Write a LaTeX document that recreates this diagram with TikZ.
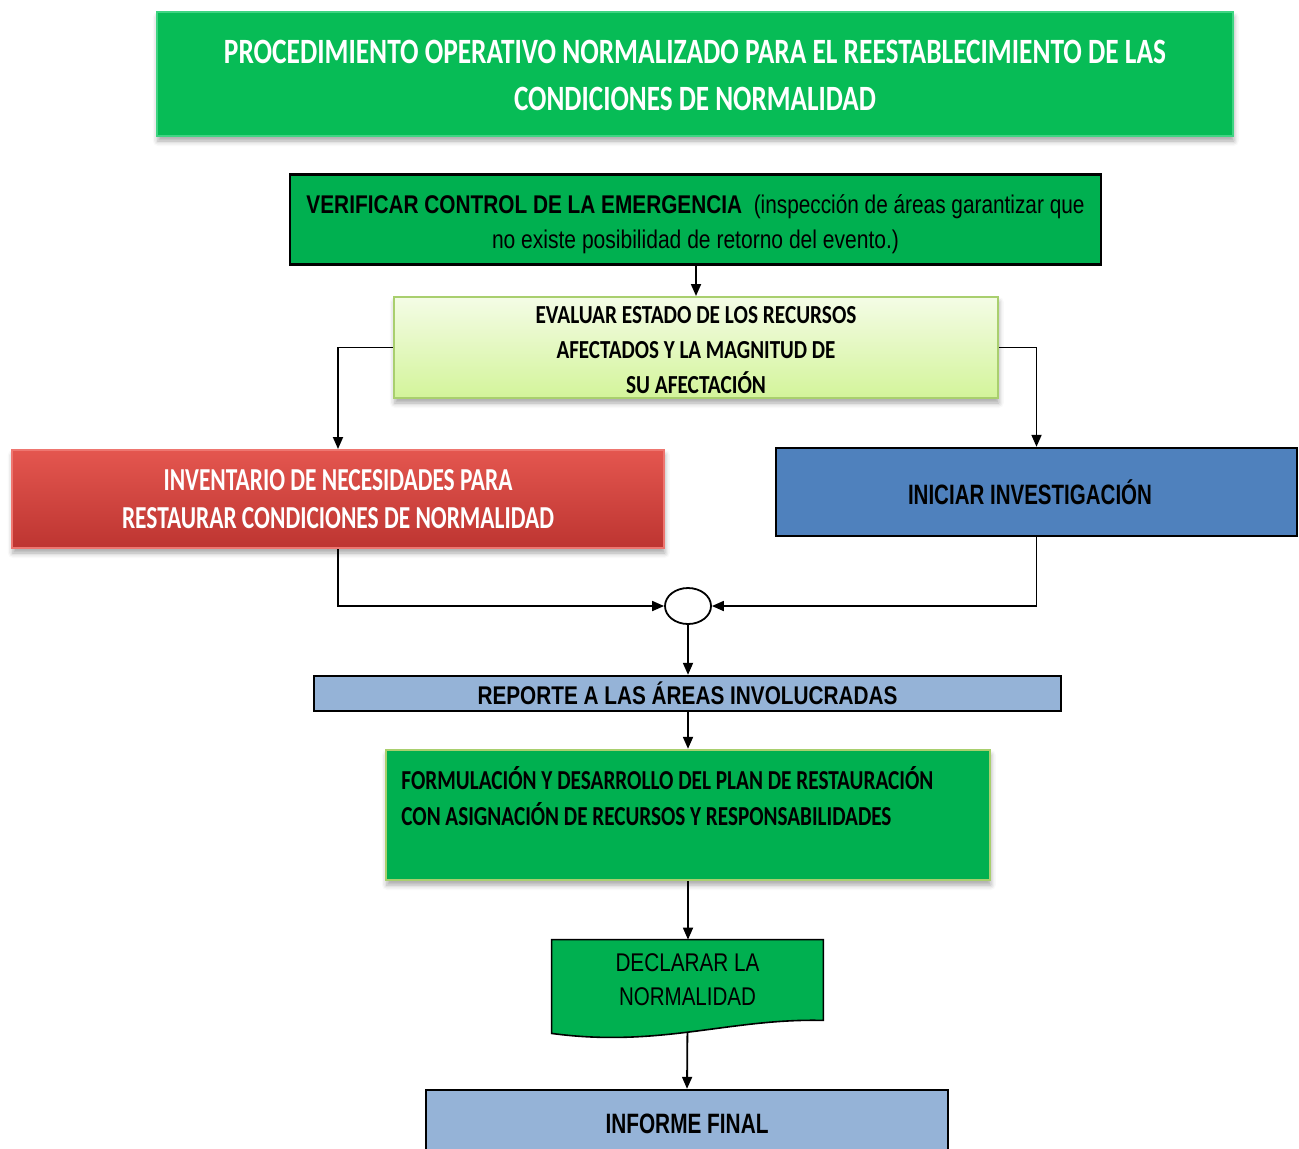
\documentclass[tikz,border=0pt]{standalone}
\usepackage{fontspec}
\usepackage{graphicx}
\usetikzlibrary{arrows.meta,shadows,shadows.blur,shapes.geometric,calc}
\newfontfamily\calfont{Carlito}
\newfontfamily\arfont{Liberation Sans}
\newcommand\fitw[2]{\resizebox{#1}{\height}{#2}}
\definecolor{titlegreen}{HTML}{07BC56}
\definecolor{titleedge}{HTML}{3FD482}
\definecolor{greenbox}{HTML}{00B050}
\definecolor{olive}{HTML}{A9CF6E}
\definecolor{evtop}{HTML}{F4FCE6}
\definecolor{evbot}{HTML}{D3F49A}
\definecolor{redtop}{HTML}{E4564F}
\definecolor{redbot}{HTML}{BD3531}
\definecolor{rededge}{HTML}{EE7670}
\definecolor{bluebox}{HTML}{4F81BD}
\definecolor{lblue}{HTML}{95B3D7}
\pgfdeclarelayer{bg}
\pgfsetlayers{bg,main}
\begin{document}
\begin{tikzpicture}[x=0.5pt,y=-0.5pt,
  box/.style={rectangle, inner sep=0pt, align=center},
  txt/.style={inner sep=0pt, align=center},
  shad/.style={blur shadow={shadow xshift=0.4pt, shadow yshift=-2.5pt, shadow blur radius=2.5pt, shadow opacity=35}},
  conn/.style={draw=black, line width=0.9pt},
  arr/.style={conn, -{Triangle[length=6pt,width=5pt]}},
]
\useasboundingbox (0,0) rectangle (1299,1148);

% title
\node[box, shad, fill=titlegreen, draw=titleedge, line width=1.2pt,
      minimum width=538pt, minimum height=62pt] (title) at (695,74) {};
\node[txt, text=white, font=\calfont\bfseries\fontsize{17.8}{23.5}\selectfont] (titletxt) at (695,75)
  {\fitw{471pt}{PROCEDIMIENTO OPERATIVO NORMALIZADO PARA EL REESTABLECIMIENTO DE LAS}\\
   \fitw{181pt}{CONDICIONES DE NORMALIDAD}};

% verificar
\node[box, fill=greenbox, draw=black, line width=1.2pt,
      minimum width=405.5pt, minimum height=45pt] (verif) at (695.5,219.5) {};
\node[txt, font=\arfont\fontsize{12.8}{17.5}\selectfont] (veriftxt) at (695.5,224)
  {\fitw{389pt}{\textbf{VERIFICAR CONTROL DE LA EMERGENCIA}\ \ (inspección de áreas garantizar que}\\
   \fitw{203.5pt}{no existe posibilidad de retorno del evento.)}};

% evaluar
\node[box, shad, top color=evtop, bottom color=evbot, draw=olive, line width=1pt,
      minimum width=302pt, minimum height=50.5pt] (eval) at (696,347.5) {};
\node[txt, font=\calfont\bfseries\fontsize{13}{17.5}\selectfont] (evaltxt) at (696,350.5)
  {\fitw{160.5pt}{EVALUAR ESTADO DE LOS RECURSOS}\\
   \fitw{139.5pt}{AFECTADOS Y LA MAGNITUD DE}\\
   \fitw{70pt}{SU AFECTACIÓN}};

% inventario
\node[box, shad, top color=redtop, bottom color=redbot, draw=rededge, line width=1pt,
      minimum width=326pt, minimum height=49pt, text=white,
      font=\calfont\bfseries\fontsize{16}{19}\selectfont] (inv) at (338,499)
  {\fitw{174.5pt}{INVENTARIO DE NECESIDADES PARA}\\
   \fitw{216pt}{RESTAURAR CONDICIONES DE NORMALIDAD}};

% iniciar
\node[box, fill=bluebox, draw=black, line width=1.2pt,
      minimum width=260.5pt, minimum height=44pt,
      font=\arfont\bfseries\fontsize{14}{14}\selectfont] (inic) at (1036.5,492)
  {\fitw{122pt}{INICIAR INVESTIGACIÓN}\hspace*{6.5pt}};

% junction
\node[ellipse, draw=black, fill=white, line width=0.9pt, inner sep=0pt,
      minimum width=23pt, minimum height=18pt] (junc) at (688,606) {};

% reporte
\node[box, fill=lblue, draw=black, line width=1.2pt,
      minimum width=373.5pt, minimum height=17.5pt,
      font=\arfont\bfseries\fontsize{12.8}{12.8}\selectfont] (rep) at (687.5,693.5)
  {\fitw{210pt}{REPORTE A LAS ÁREAS INVOLUCRADAS}};

% formulacion
\node[box, shad, fill=greenbox, draw=olive, line width=1.2pt,
      minimum width=302pt, minimum height=65pt] (form) at (688,815) {};
\node[inner sep=0pt, anchor=west, align=left,
      font=\calfont\bfseries\fontsize{13.7}{18}\selectfont] (formtxt) at (401,796)
  {\fitw{266pt}{FORMULACIÓN Y DESARROLLO DEL PLAN DE RESTAURACIÓN}\\
   \fitw{245pt}{CON ASIGNACIÓN DE RECURSOS Y RESPONSABILIDADES}};

% declarar (document shape)
\node[box, minimum width=135.5pt, minimum height=40pt] (declbox) at (687.5,980) {};
\path[fill=greenbox, draw=black, line width=0.8pt]
  (declbox.north west) -- (declbox.north east) -- (declbox.south east)
  .. controls (730,1018) and (660,1048) .. ($(declbox.south west)+(0,13)$) -- cycle;
\node[txt, font=\arfont\fontsize{12.8}{17}\selectfont] (decl) at (687.5,980)
  {\fitw{72pt}{DECLARAR LA}\\ \fitw{68.5pt}{NORMALIDAD}};

% informe final
\node[box, fill=lblue, draw=black, line width=1.2pt,
      minimum width=261pt, minimum height=34pt,
      font=\arfont\bfseries\fontsize{14}{14}\selectfont] (inf) at (687,1124)
  {\fitw{81.5pt}{INFORME FINAL}};

% connectors
\begin{pgfonlayer}{bg}
\draw[arr] (verif.south -| eval.north) -- (eval.north);
\draw[arr] (eval.west) -| (inv.north);
\draw[arr] (eval.east) -| (inic.north);
\draw[arr] (inv.south) |- (junc.west);
\draw[arr] (inic.south) |- (junc.east);
\draw[arr] (junc.south) -- (rep.north -| junc.south);
\draw[arr] (rep.south -| form.north) -- (form.north);
\draw[arr] (form.south) -- (declbox.north -| form.south);
\draw[arr] (declbox.south) -- (inf.north);
\end{pgfonlayer}
\end{tikzpicture}
\end{document}
